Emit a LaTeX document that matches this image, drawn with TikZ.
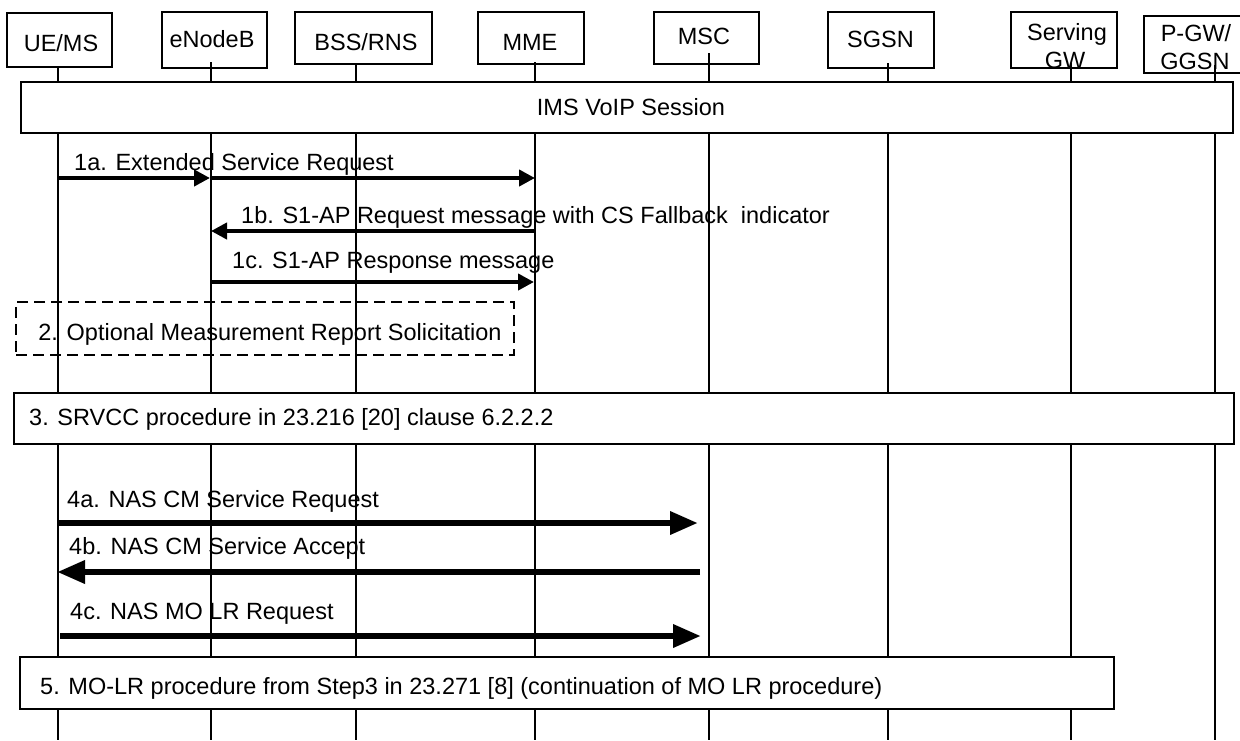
\documentclass[tikz,border=0pt]{standalone}
\usepackage{fontspec}
\setmainfont{Liberation Sans}
\usetikzlibrary{arrows.meta,calc}
\begin{document}
\begin{tikzpicture}[x=1pt,y=-1pt,
  every node/.style={font=\fontsize{23.5}{28}\selectfont},
  hdr/.style={draw, line width=2pt, fill=white, inner sep=0pt},
  txt/.style={inner sep=0pt, text height=16.8pt, text depth=0pt},
  msg/.style={txt, anchor=west},
  life/.style={line width=2pt},
  bigbox/.style={draw, line width=2.5pt, fill=white, inner sep=0pt},
  dbox/.style={draw, line width=2.5pt, dash pattern=on 11pt off 6pt, inner sep=0pt},
  sarrow/.style={line width=4pt, -{Triangle[length=16pt,width=16pt]}},
  barrow/.style={line width=6.5pt, -{Triangle[length=28pt,width=22pt]}},
  plainline/.style={line width=6.5pt}
]
\useasboundingbox (0,0) rectangle (1240,740);
\fill[white] (0,0) rectangle (1240,740);

% header boxes
\node[hdr, minimum width=105pt, minimum height=54pt] (ueB) at (59.5,40) {};
\node[hdr, minimum width=105pt, minimum height=56pt] (enbB) at (214.5,40) {};
\node[hdr, minimum width=137pt, minimum height=52pt] (bssB) at (363.5,38) {};
\node[hdr, minimum width=106pt, minimum height=52pt] (mmeB) at (531,38) {};
\node[hdr, minimum width=105pt, minimum height=52pt] (mscB) at (706.5,38) {};
\node[hdr, minimum width=106pt, minimum height=56pt] (sgsnB) at (881,40) {};
\node[hdr, minimum width=106pt, minimum height=56pt] (sgwB) at (1064,40) {};
\node[hdr, minimum width=108pt, minimum height=57pt] (pgwB) at (1198,44.5) {};

\node[txt] (ueT) at (61,43) {UE/MS};
\node[txt] (enbT) at (212,39) {eNodeB};
\node[txt] (bssT) at (366,42) {BSS/RNS};
\node[txt] (mmeT) at (530,42) {MME};
\node[txt] (mscT) at (704,36) {MSC};
\node[txt] (sgsnT) at (880.5,39.5) {SGSN};
\node[txt] (sgwT1) at (1067,32.5) {Serving};
\node[txt] (sgwT2) at (1065,60.5) {GW};
\node[txt] (pgwT1) at (1196,33.5) {P-GW/};
\node[txt] (pgwT2) at (1195,61) {GGSN};

% lifeline coordinates
\coordinate (ue) at (58,67);
\coordinate (enb) at (211,62);
\coordinate (bss) at (356,64);
\coordinate (mme) at (535,62);
\coordinate (msc) at (709,53);
\coordinate (sgsn) at (888,63);
\coordinate (sgw) at (1071,63);
\coordinate (pgw) at (1215,65);
\coordinate (bot) at (0,740);

\foreach \p in {ue,enb,bss,mme,msc,sgsn,sgw,pgw}
  \draw[life] (\p) -- (\p |- bot);

% IMS session box
\node[bigbox, minimum width=1212pt, minimum height=51pt] (ims) at (627,107.5) {};
\node[txt] (imsT) at (631,107.5) {IMS VoIP Session};

% message rows
\coordinate (y1a) at (0,178);
\coordinate (y1b) at (0,231);
\coordinate (y1c) at (0,282);
\coordinate (y4a) at (0,523);
\coordinate (y4b) at (0,572);
\coordinate (y4c) at (0,636);

\node[msg] (l1a) at (74,162.5) {1a. Extended Service Request};
\draw[sarrow] (ue |- y1a) -- ($(enb |- y1a)+(-1,0)$);
\draw[sarrow] (enb |- y1a) -- (mme |- y1a);

\node[msg] (l1b) at (241,215) {1b. S1-AP Request message with CS Fallback\ \ indicator};
\draw[sarrow] (mme |- y1b) -- (enb |- y1b);

\node[msg] (l1c) at (232,260) {1c. S1-AP Response message};
\draw[sarrow] (enb |- y1c) -- ($(mme |- y1c)+(-1,0)$);

% step 2 dashed box
\node[dbox, minimum width=498pt, minimum height=53pt] (s2) at (265,328.5) {};
\node[txt] (s2T) at (270,332.5) {2. Optional Measurement Report Solicitation};

% step 3 box
\node[bigbox, minimum width=1220pt, minimum height=51pt] (s3) at (624,418.5) {};
\node[msg] (s3T) at (29,417.5) {3. SRVCC procedure in 23.216 [20] clause 6.2.2.2};

% step 4
\node[msg] (l4a) at (67,499) {4a. NAS CM Service Request};
\draw[barrow] ($(ue |- y4a)+(-1,0)$) -- ($(msc |- y4a)+(-11,0)$);

\node[msg] (l4b) at (69,546) {4b. NAS CM Service Accept};
\draw[barrow] ($(msc |- y4b)+(-9,0)$) -- ($(ue |- y4b)+(-1,0)$);

\node[msg] (l4c) at (70,611) {4c. NAS MO LR Request};
\draw[barrow] ($(ue |- y4c)+(2,0)$) -- ($(msc |- y4c)+(-8,0)$);

% step 5 box
\node[bigbox, minimum width=1094pt, minimum height=52pt] (s5) at (567,683) {};
\node[msg] (s5T) at (40,686) {5. MO-LR procedure from Step3 in 23.271 [8] (continuation of MO LR procedure)};
\end{tikzpicture}
\end{document}
